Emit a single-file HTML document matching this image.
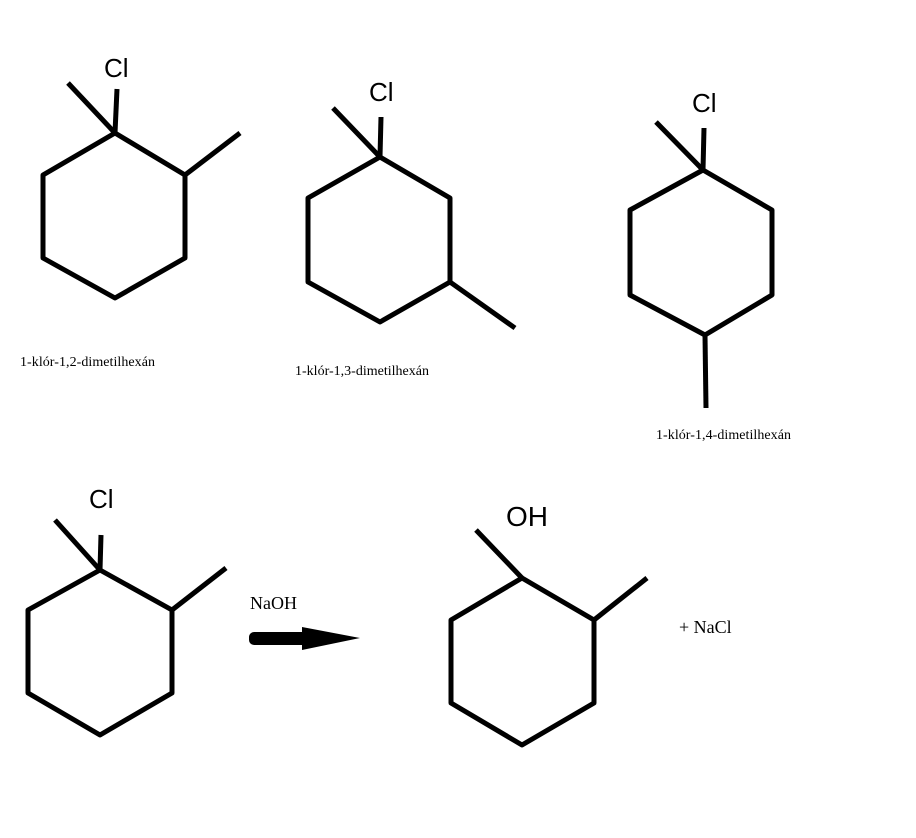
<!DOCTYPE html>
<html><head><style>body{margin:0;background:#fff}</style></head><body>
<svg width="916" height="838" xmlns="http://www.w3.org/2000/svg" style="display:block">
<g fill="none" stroke="#000" stroke-width="5" stroke-linejoin="round" stroke-linecap="butt">
<polygon points="115,133 185,175 185,258 115,298 43,258 43,175"/>
<line x1="115" y1="133" x2="68" y2="83"/><line x1="115" y1="133" x2="117" y2="89"/><line x1="185" y1="175" x2="240" y2="133"/>
<polygon points="380,157 450,198 450,282 380,322 308,282 308,198"/>
<line x1="380" y1="157" x2="333" y2="108"/><line x1="380" y1="157" x2="381" y2="117"/><line x1="450" y1="282" x2="515" y2="328"/>
<polygon points="703,170 772,210 772,295 705,335 630,295 630,210"/>
<line x1="703" y1="170" x2="656" y2="122"/><line x1="703" y1="170" x2="704" y2="128"/><line x1="705" y1="335" x2="706" y2="408"/>
<polygon points="100,570 172,610 172,693 100,735 28,693 28,610"/>
<line x1="100" y1="570" x2="55" y2="520"/><line x1="100" y1="570" x2="101" y2="535"/><line x1="172" y1="610" x2="226" y2="568"/>
<polygon points="522,578 594,620 594,703 522,745 451,703 451,620"/>
<line x1="522" y1="578" x2="476" y2="530"/><line x1="594" y1="620" x2="647" y2="578"/>
</g>
<rect x="249" y="632" width="58" height="13" rx="5" fill="#000"/>
<polygon points="302,627 360,638 302,650" fill="#000"/>
<g font-family="Liberation Sans, sans-serif" font-size="26" fill="#000">
<text x="104" y="77">Cl</text><text x="369" y="101">Cl</text><text x="692" y="112">Cl</text><text x="89" y="508">Cl</text><text x="506" y="526" font-size="28">OH</text>
</g>
<g font-family="Liberation Serif, serif" font-size="14" fill="#000">
<text x="20" y="366" textLength="135">1-klór-1,2-dimetilhexán</text>
<text x="295" y="375" textLength="134">1-klór-1,3-dimetilhexán</text>
<text x="656" y="439" textLength="135">1-klór-1,4-dimetilhexán</text>
</g>
<g font-family="Liberation Serif, serif" font-size="18" fill="#000">
<text x="250" y="609">NaOH</text><text x="679" y="633">+ NaCl</text>
</g>
</svg>
</body></html>
